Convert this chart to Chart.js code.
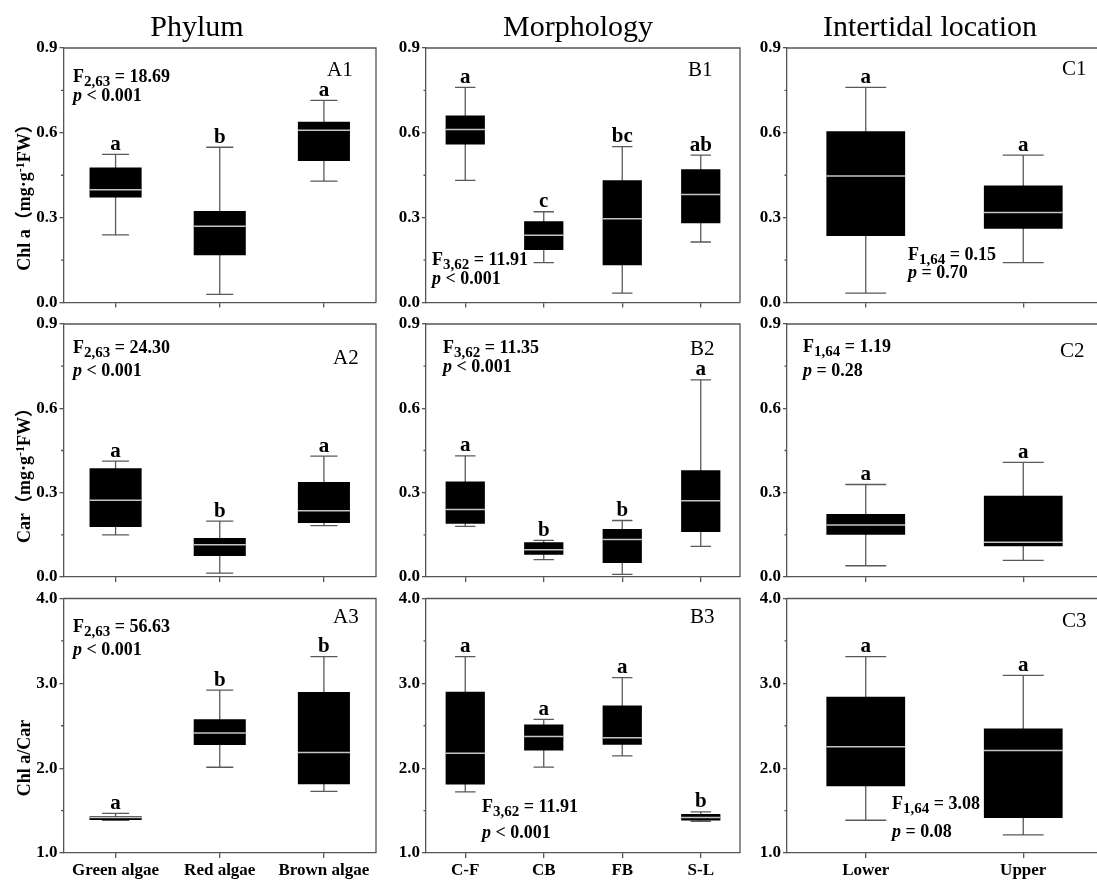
<!DOCTYPE html>
<html><head><meta charset="utf-8">
<script src="https://cdn.jsdelivr.net/npm/chart.js@4.4.0/dist/chart.umd.min.js"></script>
<style>
html,body{margin:0;padding:0;background:#fff;}
#wrap{position:relative;width:1097px;height:880px;overflow:hidden;background:#fff;}
#wrap canvas{position:absolute;left:0;top:0;}
</style></head><body><div id="wrap"></div>
<script>
// ---------- DATA ----------
const phylumCats = ['Green algae', 'Red algae', 'Brown algae'];
const morphCats = ['C-F', 'CB', 'FB', 'S-L'];
const locCats = ['Lower', 'Upper'];

// each box: [min, Q1, median, Q3, max]
const chlA_phylum = [[0.239,0.371,0.399,0.477,0.524],[0.029,0.167,0.270,0.324,0.549],[0.429,0.500,0.609,0.639,0.715]];
const chlA_morph  = [[0.432,0.559,0.612,0.661,0.761],[0.141,0.186,0.238,0.287,0.321],[0.033,0.132,0.296,0.432,0.551],[0.214,0.280,0.382,0.471,0.521]];
const chlA_loc    = [[0.033,0.235,0.447,0.606,0.761],[0.141,0.261,0.318,0.414,0.521]];
const car_phylum  = [[0.150,0.178,0.273,0.387,0.412],[0.014,0.075,0.115,0.139,0.199],[0.183,0.192,0.236,0.338,0.430]];
const car_morph   = [[0.180,0.189,0.240,0.340,0.431],[0.062,0.079,0.097,0.124,0.130],[0.009,0.050,0.133,0.171,0.201],[0.109,0.160,0.271,0.380,0.701]];
const car_loc     = [[0.040,0.150,0.185,0.224,0.329],[0.059,0.109,0.124,0.289,0.408]];
const ratio_phylum= [[1.385,1.389,1.417,1.433,1.468],[2.011,2.274,2.416,2.577,2.919],[1.727,1.810,2.184,2.899,3.316]];
const ratio_morph = [[1.720,1.807,2.177,2.902,3.315],[2.012,2.209,2.374,2.516,2.575],[2.146,2.276,2.358,2.740,3.067],[1.374,1.382,1.417,1.461,1.484]];
const ratio_loc   = [[1.386,1.787,2.252,2.843,3.315],[1.213,1.413,2.209,2.469,3.094]];

// significance letters
const let_chlA_phylum = ['a','b','a'];
const let_chlA_morph  = ['a','c','bc','ab'];
const let_chlA_loc    = ['a','a'];
const let_car_phylum  = ['a','b','a'];
const let_car_morph   = ['a','b','b','a'];
const let_car_loc     = ['a','a'];
const let_ratio_phylum= ['a','b','b'];
const let_ratio_morph = ['a','a','a','b'];
const let_ratio_loc   = ['a','a'];

// ANOVA text: [df subscript, F value, p relation, p value]
const st_chlA_phylum = ['2,63','18.69','<','0.001'];
const st_chlA_morph  = ['3,62','11.91','<','0.001'];
const st_chlA_loc    = ['1,64','0.15','=','0.70'];
const st_car_phylum  = ['2,63','24.30','<','0.001'];
const st_car_morph   = ['3,62','11.35','<','0.001'];
const st_car_loc     = ['1,64','1.19','=','0.28'];
const st_ratio_phylum= ['2,63','56.63','<','0.001'];
const st_ratio_morph = ['3,62','11.91','<','0.001'];
const st_ratio_loc   = ['1,64','3.08','=','0.08'];

const panelLabels = [['A1','B1','C1'],['A2','B2','C2'],['A3','B3','C3']];
const columnTitles = ['Phylum', 'Morphology', 'Intertidal location'];
const yTicks01 = [0, 0.9, 0.3];   // min, max, step
const yTicks3  = [1, 4, 1];

// ---------- LAYOUT ----------
const CW = 1110, CH = 880, YW = 40, XH = 34;
const ROWS = [{T:48, B:302.5}, {T:324, B:577}, {T:598.5, B:853}];
const COLS = [{L:63.5, R:376}, {L:426, R:740}, {L:787, R:1102}];
const AX = '#555', WH = '#5a5a5a', MED = '#c4c4c4';
const SERIF = '"Liberation Serif", "Times New Roman", serif';
const SERIF_CJK = '"Liberation Serif", "Noto Sans CJK SC", serif';
// stats text positions [x, baseline1, baseline2]
const statPos = [
  [[73,82,101],[432,265,284],[908,260,278]],
  [[73,353,376],[443,353,372],[803,352,376]],
  [[73,632,655],[482,812,838],[892,809,837]]
];
const labelPos = [
  [[327,76],[688,76],[1062,75]],
  [[333,364],[690,355],[1060,357]],
  [[333,623],[690,623],[1062,627]]
];
const colTitlePos = [[197,36],[578,36],[930,36]];

const rowsData = [
  {stats:[chlA_phylum, chlA_morph, chlA_loc], lets:[let_chlA_phylum, let_chlA_morph, let_chlA_loc], st:[st_chlA_phylum, st_chlA_morph, st_chlA_loc], yr:yTicks01},
  {stats:[car_phylum, car_morph, car_loc], lets:[let_car_phylum, let_car_morph, let_car_loc], st:[st_car_phylum, st_car_morph, st_car_loc], yr:yTicks01},
  {stats:[ratio_phylum, ratio_morph, ratio_loc], lets:[let_ratio_phylum, let_ratio_morph, let_ratio_loc], st:[st_ratio_phylum, st_ratio_morph, st_ratio_loc], yr:yTicks3}
];
const catsByCol = [phylumCats, morphCats, locCats];

function drawYTitle(ctx, row) {
  const parts = row === 0 ? [['Chl a（mg·g',0],['-1',1],['FW）',0]]
              : row === 1 ? [['Car（mg·g',0],['-1',1],['FW）',0]]
              : [['Chl a/Car',0]];
  const cy = row === 0 ? 193 : row === 1 ? 471 : 758;
  ctx.save();
  ctx.translate(30, cy);
  ctx.rotate(-Math.PI/2);
  ctx.fillStyle = '#000';
  ctx.textBaseline = 'alphabetic';
  ctx.textAlign = 'left';
  let total = 0;
  parts.forEach(([t, sup]) => { ctx.font = 'bold ' + (sup ? 12 : 18) + 'px ' + SERIF_CJK; total += ctx.measureText(t).width; });
  let x = -total/2;
  parts.forEach(([t, sup]) => {
    ctx.font = 'bold ' + (sup ? 12 : 18) + 'px ' + SERIF_CJK;
    ctx.fillText(t, x, sup ? -6 : 0);
    x += ctx.measureText(t).width;
  });
  ctx.restore();
}

function makePlugin(r, c) {
  const rd = rowsData[r];
  const stats = rd.stats[c], lets = rd.lets[c], st = rd.st[c];
  return {
    id: 'boxp',
    beforeDatasetsDraw(chart) {
      const {ctx, scales:{x, y}} = chart;
      const cw = x.getPixelForValue(1) - x.getPixelForValue(0);
      ctx.save();
      ctx.strokeStyle = WH; ctx.lineWidth = 1.3;
      stats.forEach((s, i) => {
        const cx = x.getPixelForValue(i);
        const y0 = y.getPixelForValue(s[0]), y4 = y.getPixelForValue(s[4]);
        const hw = cw * 0.13;
        ctx.beginPath();
        ctx.moveTo(cx, y0); ctx.lineTo(cx, y4);
        ctx.moveTo(cx - hw, y0); ctx.lineTo(cx + hw, y0);
        ctx.moveTo(cx - hw, y4); ctx.lineTo(cx + hw, y4);
        ctx.stroke();
      });
      ctx.restore();
    },
    afterDatasetsDraw(chart) {
      const {ctx, scales:{x, y}} = chart;
      const cw = x.getPixelForValue(1) - x.getPixelForValue(0);
      ctx.save();
      ctx.strokeStyle = MED; ctx.lineWidth = 1.5;
      stats.forEach((s, i) => {
        const cx = x.getPixelForValue(i);
        const ym = y.getPixelForValue(s[2]);
        ctx.beginPath();
        ctx.moveTo(cx - cw*0.25, ym); ctx.lineTo(cx + cw*0.25, ym);
        ctx.stroke();
      });
      ctx.restore();
    },
    afterDraw(chart) {
      const {ctx, chartArea:a, scales:{x, y}} = chart;
      ctx.save();
      // frame top & right
      ctx.strokeStyle = AX; ctx.lineWidth = 1.3;
      ctx.beginPath();
      ctx.moveTo(a.left, a.top); ctx.lineTo(a.right, a.top); ctx.lineTo(a.right, a.bottom);
      ctx.stroke();
      // minor ticks
      const [mn, mx, step] = rd.yr;
      ctx.beginPath();
      for (let v = mn + step/2; v < mx; v += step) {
        const py = y.getPixelForValue(v);
        ctx.moveTo(a.left - 2.5, py); ctx.lineTo(a.left, py);
      }
      ctx.stroke();
      // letters
      ctx.fillStyle = '#000';
      ctx.textAlign = 'center'; ctx.textBaseline = 'alphabetic';
      ctx.font = 'bold 21px ' + SERIF;
      stats.forEach((s, i) => {
        ctx.fillText(lets[i], x.getPixelForValue(i), y.getPixelForValue(s[4]) - 4.5);
      });
      // stats
      const [sx, sy1, sy2] = statPos[r][c];
      ctx.textAlign = 'left';
      let px = sx;
      ctx.font = 'bold 18px ' + SERIF;
      ctx.fillText('F', px, sy1); px += ctx.measureText('F').width;
      ctx.font = 'bold 15px ' + SERIF;
      ctx.fillText(st[0], px, sy1 + 4); px += ctx.measureText(st[0]).width;
      ctx.font = 'bold 18px ' + SERIF;
      ctx.fillText(' = ' + st[1], px, sy1);
      px = sx;
      ctx.font = 'italic bold 18px ' + SERIF;
      ctx.fillText('p', px, sy2); px += ctx.measureText('p').width;
      ctx.font = 'bold 18px ' + SERIF;
      ctx.fillText(' ' + st[2] + ' ' + st[3], px, sy2);
      // panel label
      ctx.font = '21px ' + SERIF;
      ctx.fillText(panelLabels[r][c], labelPos[r][c][0], labelPos[r][c][1]);
      // y title
      if (c === 0) drawYTitle(ctx, r);
      // column title
      if (r === 0) {
        ctx.font = '30px ' + SERIF;
        ctx.textAlign = 'center';
        ctx.fillText(columnTitles[c], colTitlePos[c][0], colTitlePos[c][1]);
      }
      ctx.restore();
    }
  };
}

const wrap = document.getElementById('wrap');
for (let r = 0; r < 3; r++) {
  for (let c = 0; c < 3; c++) {
    const canvas = document.createElement('canvas');
    canvas.width = CW; canvas.height = CH;
    canvas.style.width = CW + 'px'; canvas.style.height = CH + 'px';
    wrap.appendChild(canvas);
    const rd = rowsData[r];
    const stats = rd.stats[c];
    const [mn, mx, step] = rd.yr;
    const L = COLS[c].L, R = COLS[c].R, T = ROWS[r].T, B = ROWS[r].B;
    new Chart(canvas, {
      type: 'bar',
      data: {
        labels: catsByCol[c],
        datasets: [{
          data: stats.map(s => [s[1], s[3]]),
          backgroundColor: '#000',
          borderWidth: 0,
          barPercentage: 0.5,
          categoryPercentage: 1.0
        }]
      },
      options: {
        responsive: false,
        animation: false,
        devicePixelRatio: 1,
        events: [],
        layout: { padding: { left: L - YW, top: T, right: CW - R, bottom: CH - B - XH } },
        plugins: { legend: { display: false }, tooltip: { enabled: false } },
        scales: {
          x: {
            offset: true,
            grid: { display: true, offset: false, drawOnChartArea: false, drawTicks: true, tickLength: 5, color: AX, lineWidth: 1.3 },
            border: { display: true, color: AX, width: 1.3 },
            ticks: { display: r === 2, color: '#000', padding: 2, font: { family: SERIF, size: 17, weight: 'bold' } },
            afterFit: s => { s.height = XH; }
          },
          y: {
            min: mn, max: mx,
            grid: { display: true, drawOnChartArea: false, drawTicks: true, tickLength: 4, color: AX, lineWidth: 1.3 },
            border: { display: true, color: AX, width: 1.3 },
            ticks: { stepSize: step, color: '#000', padding: 2, font: { family: SERIF, size: 17, weight: 'bold' },
                     callback: v => Number(v).toFixed(1) },
            afterFit: s => { s.width = YW; }
          }
        }
      },
      plugins: [makePlugin(r, c)]
    });
  }
}
</script>
</body></html>
